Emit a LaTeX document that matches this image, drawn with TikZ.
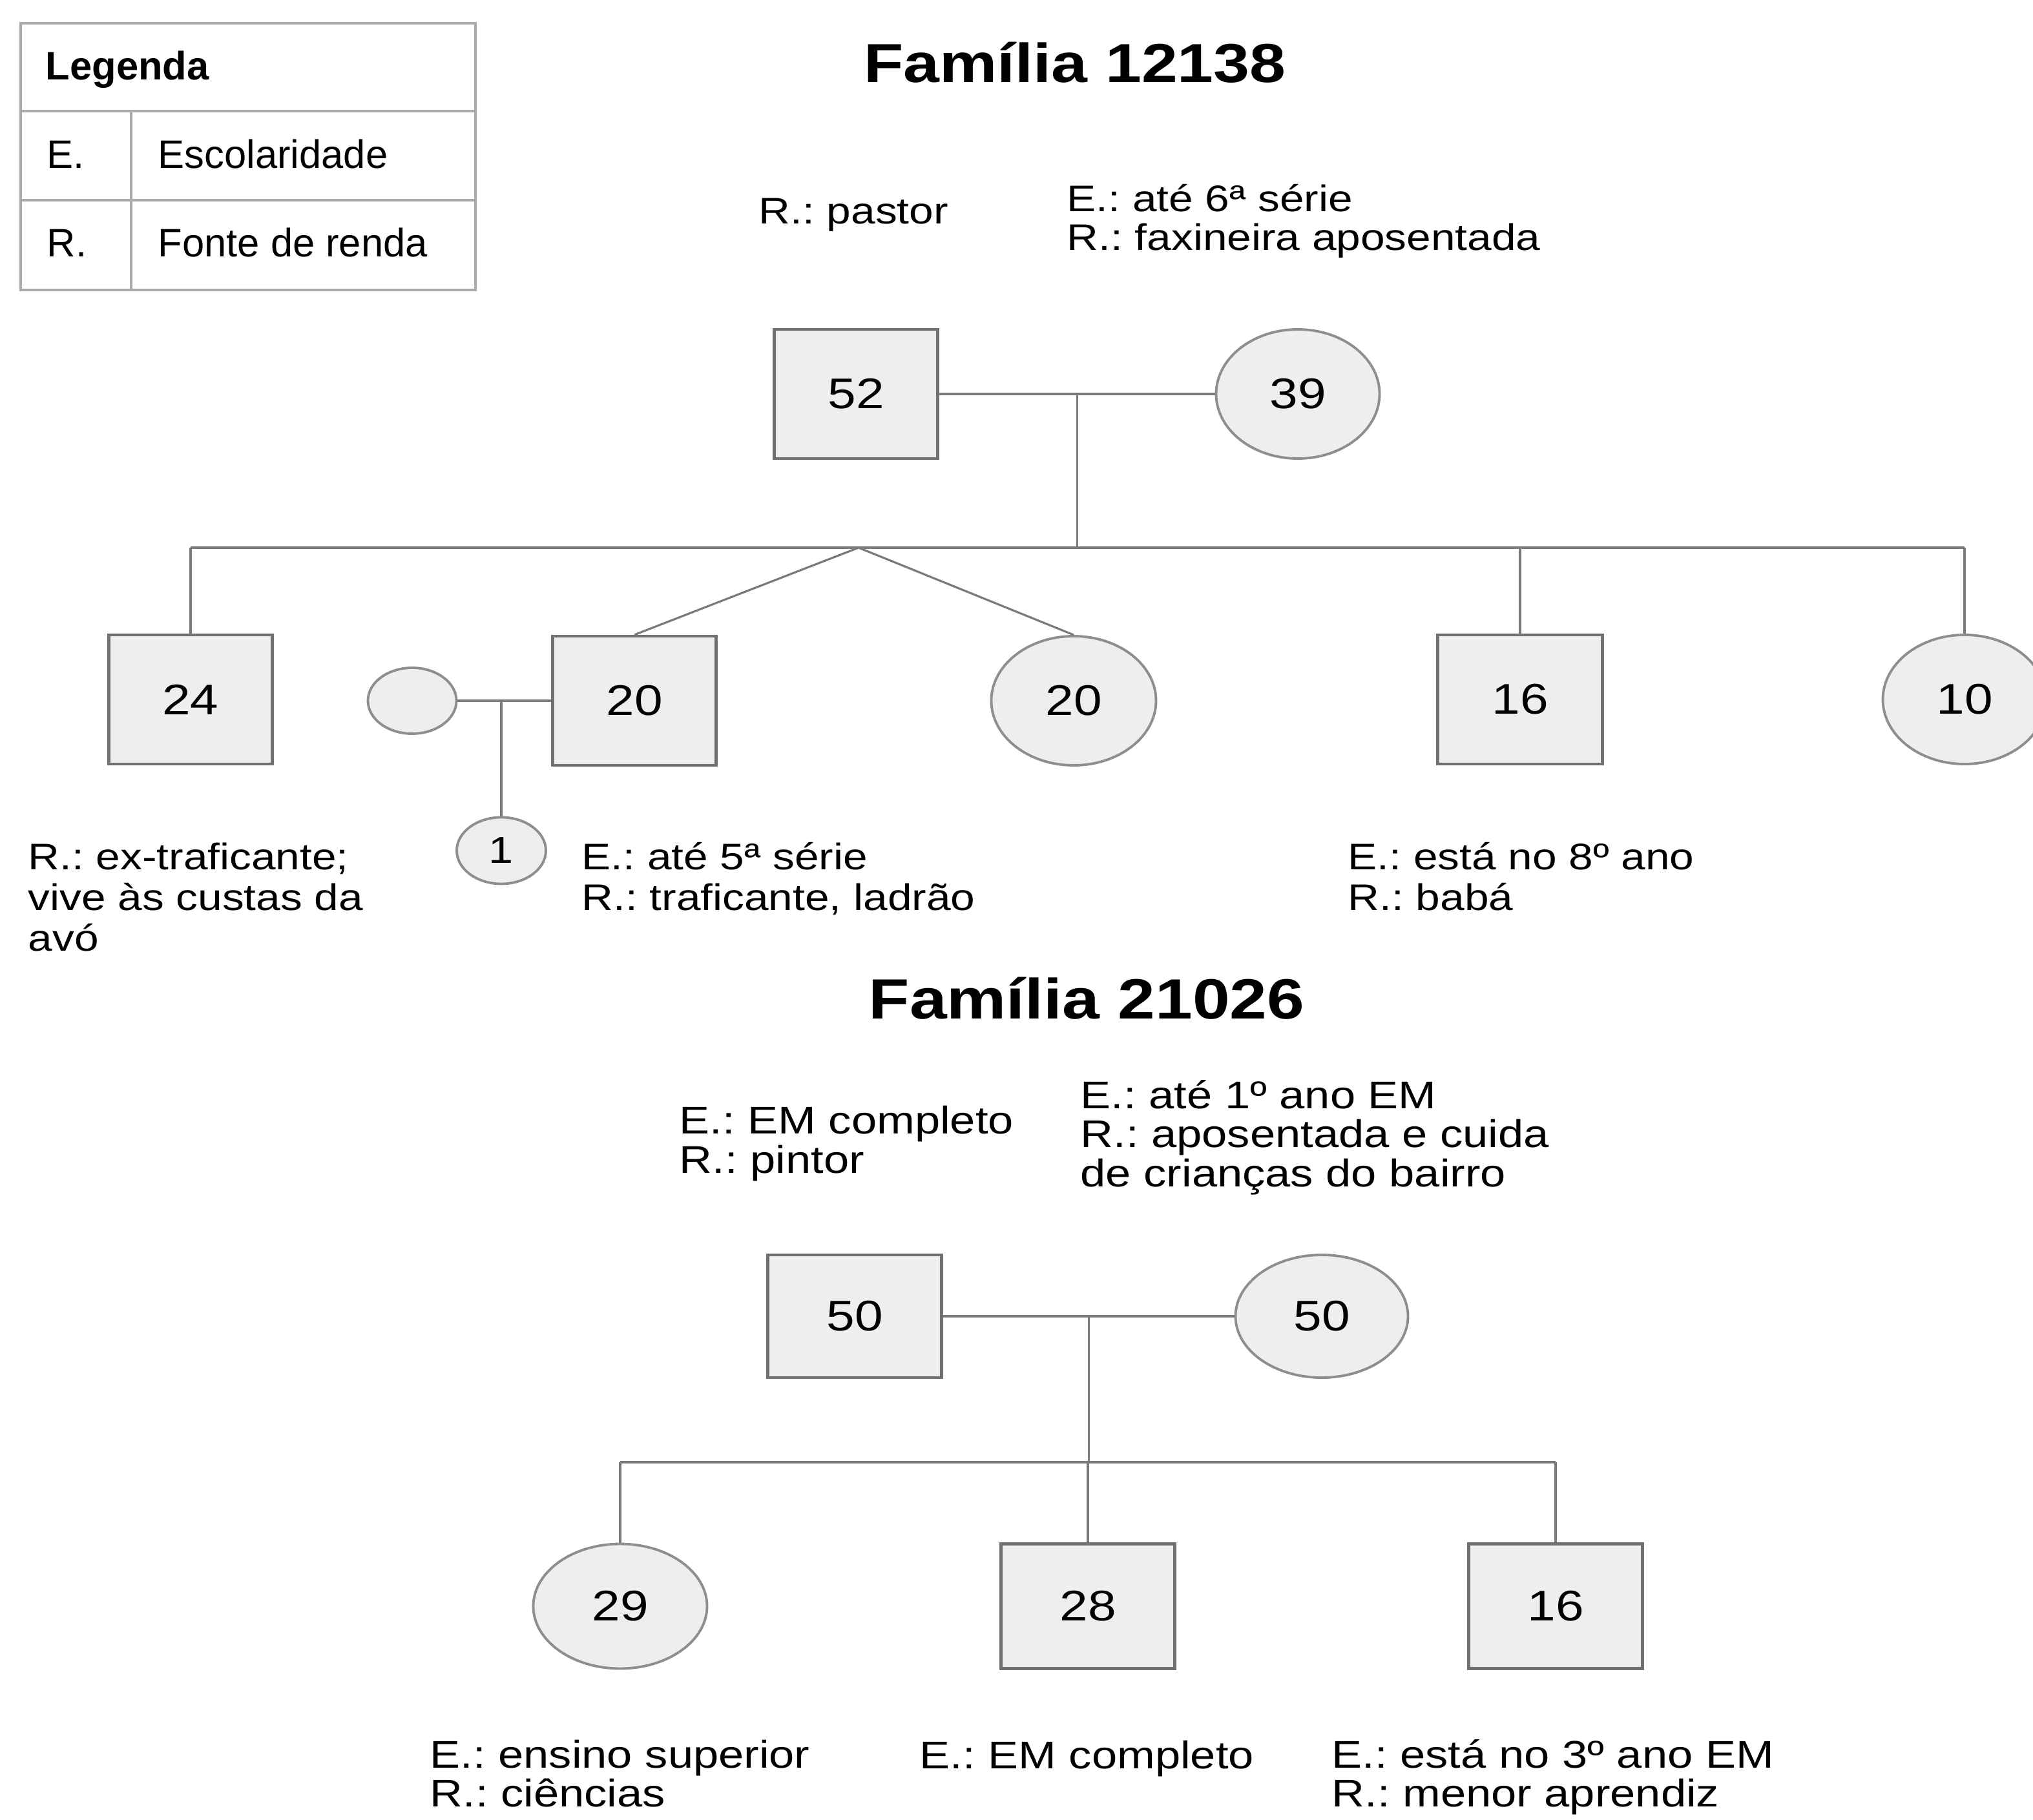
\documentclass[tikz,border=0pt]{standalone}
\usepackage{fontspec}
\setmainfont{Liberation Sans}
\newfontfamily\widefont{Liberation Sans}[FakeStretch=1.18]
\usetikzlibrary{shapes.geometric,calc}
\definecolor{fillg}{HTML}{EEEEEE}
\definecolor{sqline}{HTML}{707070}
\definecolor{elline}{HTML}{8E8E8E}
\definecolor{conn}{HTML}{7A7A7A}
\definecolor{legline}{HTML}{ABABAB}
\frenchspacing
\begin{document}
\frenchspacing
\begin{tikzpicture}[
  male/.style={rectangle, draw=sqline, fill=fillg, line width=1.2pt, inner sep=0pt,
    minimum width=2.53cm, minimum height=2.0cm, font=\widefont\fontsize{18.9}{20}\selectfont},
  female/.style={ellipse, draw=elline, fill=fillg, line width=1.1pt, inner sep=0pt,
    minimum width=2.53cm, minimum height=2.0cm, font=\widefont\fontsize{18.9}{20}\selectfont},
  lbl/.style={anchor=base west, align=left, inner sep=0pt, font=\widefont\fontsize{16.3}{17.1}\selectfont},
  lblw/.style={anchor=base west, align=left, inner sep=0pt, font=\widefont\fontsize{16.3}{17.8}\selectfont},
  lbll/.style={anchor=base west, align=left, inner sep=0pt, font=\widefont\fontsize{17}{17.1}\selectfont},
  ttl/.style={anchor=base, inner sep=0pt, font=\widefont\bfseries\fontsize{24.2}{28}\selectfont},
  legtxt/.style={anchor=base west, inner sep=0pt, font=\fontsize{17.5}{20}\selectfont},
  rel/.style={draw=conn, line width=0.9pt},
  legl/.style={draw=legline, line width=1.2pt}
]
\useasboundingbox (0,0) rectangle (31.47,-28.18);
\clip (0,0) rectangle (31.47,-28.18);

% Legend
\node[legl, rectangle, minimum width=7.04cm, minimum height=4.13cm, anchor=north west, inner sep=0pt] (legend) at (0.30,-0.34) {};
\draw[legl] (0.30,-1.72) -- (7.34,-1.72);
\draw[legl] (0.30,-3.10) -- (7.34,-3.10);
\draw[legl] (2.03,-1.72) -- (2.03,-4.47);
\node[legtxt, font=\bfseries\fontsize{17.5}{20}\selectfont] (legT) at (0.70,-1.24) {Legenda};
\node[legtxt] (legE) at (0.72,-2.61) {E.};
\node[legtxt] (legEs) at (2.44,-2.61) {Escolaridade};
\node[legtxt] (legR) at (0.72,-3.98) {R.};
\node[legtxt] (legRf) at (2.44,-3.98) {Fonte de renda};

% Family 12138 (multi-line labels are anchored at the baseline of their last line)
\node[ttl] (t1) at (16.64,-1.28) {Família 12138};
\node[lbl] (l52) at (11.74,-3.47) {R.: pastor};
\node[lbl] (l39) at (16.51,-3.88) {E.: até 6ª série\\R.: faxineira aposentada};

\node[male] (m52) at (13.25,-6.10) {52};
\node[female] (f39) at (20.09,-6.10) {39};

\node[male] (c24) at (2.95,-10.83) {24};
\node[female, minimum width=1.37cm, minimum height=1.02cm] (sp) at (6.38,-10.85) {};
\node[male] (c20m) at (9.82,-10.85) {20};
\node[female, minimum width=2.55cm] (c20f) at (16.62,-10.85) {20};
\node[male, minimum width=2.55cm] (c16) at (23.53,-10.83) {16};
\node[female] (c10) at (30.41,-10.83) {10};
\node[female, minimum width=1.38cm, minimum height=1.03cm, font=\widefont\fontsize{16.5}{18}\selectfont] (gc1) at (7.76,-13.17) {1};

\coordinate (mid1) at ($(m52.east)!0.5!(f39.west)$);
\coordinate (bar1) at (0,-8.48);
\coordinate (twin) at (13.29,-8.48);
\draw[rel] (m52.east) -- (f39.west);
\draw[rel] (mid1) -- (mid1 |- bar1);
\draw[rel] (c24.north |- bar1) -- (c10.north |- bar1);
\draw[rel] (c24.north |- bar1) -- (c24.north);
\draw[rel] (twin) -- (c20m.north);
\draw[rel] (twin) -- (c20f.north);
\draw[rel] (c16.north |- bar1) -- (c16.north);
\draw[rel] (c10.north |- bar1) -- (c10.north);
\draw[rel] (sp.east) -- (c20m.west);
\coordinate (mid2) at (gc1.north |- sp.east);
\draw[rel] (mid2) -- (gc1.north);

\node[lblw] (l24) at (0.43,-14.72) {R.: ex-traficante;\\vive às custas da\\avó};
\node[lblw] (l20) at (9.00,-14.09) {E.: até 5ª série\\R.: traficante, ladrão};
\node[lblw] (l16) at (20.86,-14.09) {E.: está no 8º ano\\R.: babá};

% Family 21026
\node[ttl, font=\widefont\bfseries\fontsize{25}{29}\selectfont] (t2) at (16.82,-15.77) {Família 21026};
\node[lbll] (l50m) at (10.51,-18.16) {E.: EM completo\\R.: pintor};
\node[lbll] (l50f) at (16.72,-18.37) {E.: até 1º ano EM\\R.: aposentada e cuida\\de crianças do bairro};

\node[male, minimum width=2.69cm, minimum height=1.90cm] (m50) at (13.23,-20.38) {50};
\node[female, minimum width=2.67cm, minimum height=1.90cm] (f50) at (20.46,-20.38) {50};

\node[female, minimum width=2.69cm, minimum height=1.93cm] (d29) at (9.60,-24.87) {29};
\node[male, minimum width=2.69cm, minimum height=1.93cm] (s28) at (16.84,-24.87) {28};
\node[male, minimum width=2.69cm, minimum height=1.93cm] (s16) at (24.08,-24.87) {16};

\coordinate (mid3) at ($(m50.east)!0.5!(f50.west)$);
\coordinate (bar2) at (0,-22.64);
\draw[rel] (m50.east) -- (f50.west);
\draw[rel] (mid3) -- (mid3 |- bar2);
\draw[rel] (d29.north |- bar2) -- (s16.north |- bar2);
\draw[rel] (d29.north |- bar2) -- (d29.north);
\draw[rel] (s28.north |- bar2) -- (s28.north);
\draw[rel] (s16.north |- bar2) -- (s16.north);

\node[lbll, font=\widefont\fontsize{17}{16.8}\selectfont] (l29) at (6.65,-27.97) {E.: ensino superior\\R.: ciências};
\node[lbll] (l28) at (14.23,-27.38) {E.: EM completo};
\node[lbll, font=\widefont\fontsize{17}{16.8}\selectfont] (l16b) at (20.61,-27.97) {E.: está no 3º ano EM\\R.: menor aprendiz};
\end{tikzpicture}
\end{document}
